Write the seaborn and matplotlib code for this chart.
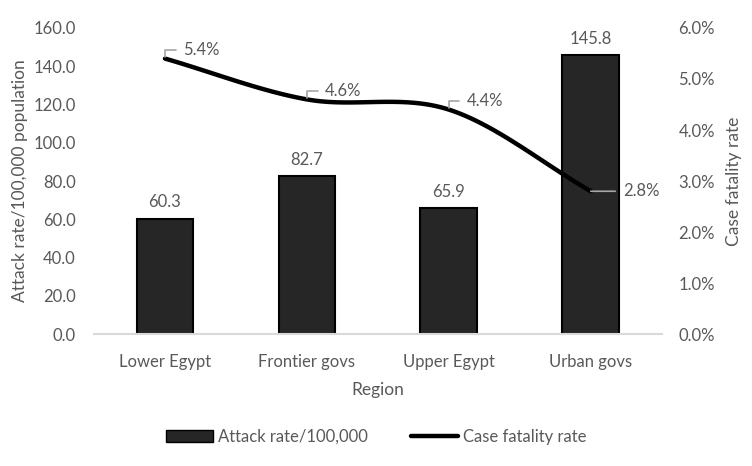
import matplotlib as mpl
mpl.use('Agg')
import matplotlib.pyplot as plt
import matplotlib.ticker as ticker
from matplotlib.patches import Patch
from matplotlib.lines import Line2D
import numpy as np
import pandas as pd
import seaborn as sns

sns.set_style("white")
plt.rcParams['font.family'] = ['Lato', 'DejaVu Sans']

regions = ["Lower Egypt", "Frontier govs", "Upper Egypt", "Urban govs"]
attack_rate = [60.3, 82.7, 65.9, 145.8]
cfr = [5.4, 4.6, 4.4, 2.8]  # percent

TXT = '#595959'
BAR = '#262626'
FS = 12


def smooth(xs, ys, n=40):
    # Catmull-Rom style smoothing like Excel's "smoothed line"
    xs = np.asarray(xs, float)
    ys = np.asarray(ys, float)
    m = np.gradient(ys, xs)
    px, py = [], []
    for i in range(len(xs) - 1):
        t = np.linspace(0, 1, n)
        h = xs[i + 1] - xs[i]
        h00 = 2 * t**3 - 3 * t**2 + 1
        h10 = t**3 - 2 * t**2 + t
        h01 = -2 * t**3 + 3 * t**2
        h11 = t**3 - t**2
        px.extend(xs[i] + t * h)
        py.extend(h00 * ys[i] + h10 * h * m[i] + h01 * ys[i + 1] + h11 * h * m[i + 1])
    return np.array(px), np.array(py)


df = pd.DataFrame({'Region': regions, 'Attack': attack_rate, 'CFR': cfr})

fig = plt.figure(figsize=(7.52, 4.66), dpi=100)
ax = fig.add_axes([0.125, 0.283, 0.755, 0.657])

sns.barplot(data=df, x='Region', y='Attack', color=BAR, saturation=1,
            width=0.4, edgecolor='black', linewidth=1.5, ax=ax, zorder=2)
ax.bar_label(ax.containers[0], fmt='%.1f', padding=6, fontsize=FS, color=TXT)

ax.set_ylim(0, 160)
ax.set_xlim(-0.5, 3.5)
ax.yaxis.set_major_locator(ticker.MultipleLocator(20))
ax.yaxis.set_major_formatter(ticker.FormatStrFormatter('%.1f'))
ax.set_xlabel('Region', fontsize=12.5, color=TXT, labelpad=9)
ax.set_ylabel('Attack rate/100,000 population', fontsize=12.5, color=TXT, labelpad=4)
ax.tick_params(axis='both', length=0, labelsize=FS, colors=TXT)
ax.tick_params(axis='y', pad=13)
ax.tick_params(axis='x', pad=14)
for s in ['top', 'right', 'left']:
    ax.spines[s].set_visible(False)
ax.spines['bottom'].set_color('#d9d9d9')
ax.spines['bottom'].set_linewidth(1.5)

ax2 = ax.twinx()
xs = np.arange(len(regions))
sx, sy = smooth(xs, cfr)
ax2.plot(sx, sy, color='black', lw=3.2, solid_capstyle='round', zorder=3)
ax2.set_ylim(0, 6)
ax2.yaxis.set_major_locator(ticker.MultipleLocator(1))
ax2.yaxis.set_major_formatter(ticker.FuncFormatter(lambda v, p: f'{v:.1f}%'))
ax2.set_ylabel('Case fatality rate', fontsize=12.5, color=TXT, labelpad=8)
ax2.tick_params(axis='y', length=0, labelsize=FS, colors=TXT, pad=12)
for s in ax2.spines.values():
    s.set_visible(False)

# line value labels with leader lines
for i, v in enumerate(cfr):
    if i == len(cfr) - 1:
        ax2.annotate(f'{v:.1f}%', xy=(i, v), xytext=(23, 0), textcoords='offset points',
                     ha='left', va='center', fontsize=FS, color=TXT,
                     arrowprops=dict(arrowstyle='-', color='#a6a6a6', lw=1.2,
                                     shrinkA=3, shrinkB=0))
    else:
        ax2.annotate(f'{v:.1f}%', xy=(i, v), xytext=(13, 6), textcoords='offset points',
                     ha='left', va='center', fontsize=FS, color=TXT,
                     arrowprops=dict(arrowstyle='-', color='#a6a6a6', lw=1.2,
                                     connectionstyle='angle,angleA=0,angleB=90,rad=0',
                                     shrinkA=3, shrinkB=1))

handles = [Patch(facecolor=BAR, edgecolor='black', linewidth=1),
           Line2D([0], [0], color='black', lw=3.2)]
fig.legend(handles, ['Attack rate/100,000', 'Case fatality rate'], loc='center',
           bbox_to_anchor=(0.5, 0.062), ncol=2, frameon=False, fontsize=FS,
           labelcolor=TXT, handlelength=2.8, handletextpad=0.3, columnspacing=2.6)

fig.savefig('out.png', dpi=100)
